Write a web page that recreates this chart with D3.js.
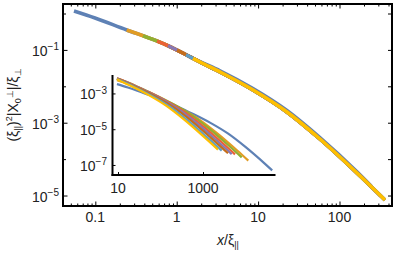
<!DOCTYPE html>
<html>
<head>
<meta charset="utf-8">
<script src="https://cdn.jsdelivr.net/npm/d3@7"></script>
<style>
  html, body { margin: 0; padding: 0; background: #fff; }
  svg { display: block; font-family: "Liberation Sans", Arial, sans-serif; }
</style>
</head>
<body>
<svg id="chart" width="395" height="253"></svg>
<script>
// ---------------- data ----------------
const seriesColors = ["#5E81B5", "#E19C24", "#8FB032", "#EB6235", "#8778B3", "#C56E1A", "#5D9EC7", "#FFBF00"];

// main panel: scaled curves (x/xi_par, (xi_par)^2 |X0| / xi_perp)
const mainBlueX   = [0.0547, 0.0991, 0.243, 0.470, 0.753, 1.205, 1.93, 3.40, 8.65, 22.6, 57.5, 164, 245];
const mainBlueY   = [1.17, 0.752, 0.352, 0.208, 0.136, 0.0807, 0.048, 0.0267, 0.0087, 0.00217, 3.9e-4, 4.5e-5, 1.83e-5];
const mainOrangeX = [0.243, 0.470, 0.753, 1.205, 1.93, 3.40, 8.65, 22.6, 57.5, 164, 282];
const mainOrangeY = [0.352, 0.208, 0.136, 0.0807, 0.0466, 0.0247, 0.00791, 0.00197, 3.56e-4, 4.15e-5, 1.29e-5];
const mainGreenX  = [0.385, 0.470, 0.753, 1.205, 1.93, 3.40, 8.65, 22.6, 57.5, 164, 316];
const mainGreenY  = [0.244, 0.208, 0.136, 0.0807, 0.0466, 0.0247, 0.00791, 0.00197, 3.56e-4, 4.15e-5, 1.0e-5];
const mainRedX    = [0.573, 0.753, 1.205, 1.93, 3.40, 8.65, 22.6, 57.5, 164, 324];
const mainRedY    = [0.1745, 0.136, 0.0807, 0.0466, 0.0247, 0.00791, 0.00197, 3.56e-4, 4.15e-5, 9.6e-6];
const mainPurpleX = [0.782, 1.205, 1.93, 3.40, 8.65, 22.6, 57.5, 164, 362];
const mainPurpleY = [0.131, 0.0807, 0.0466, 0.0247, 0.00791, 0.00197, 3.56e-4, 4.15e-5, 7.52e-6];
const mainBrownX  = [1.008, 1.205, 1.93, 3.40, 8.65, 22.6, 57.5, 164, 362];
const mainBrownY  = [0.0984, 0.0807, 0.0466, 0.0247, 0.00791, 0.00197, 3.56e-4, 4.15e-5, 7.52e-6];
const mainSkyX    = [1.30, 1.93, 3.40, 8.65, 22.6, 57.5, 164, 362];
const mainSkyY    = [0.0738, 0.0466, 0.0247, 0.00791, 0.00197, 3.56e-4, 4.15e-5, 7.52e-6];
const mainYellowX = [1.586, 1.93, 3.40, 8.65, 22.6, 57.5, 164, 362];
const mainYellowY = [0.0586, 0.0466, 0.0247, 0.00791, 0.00197, 3.56e-4, 4.15e-5, 7.52e-6];

// inset: raw curves (x, |X0|)
const insetBlueX   = [9.46, 17.1, 42.1, 81.3, 130, 208, 334, 589, 1496, 3917, 9954, 28380, 42460];
const insetBlueY   = [3.35e-3, 2.15e-3, 1.007e-3, 5.96e-4, 3.90e-4, 2.31e-4, 1.33e-4, 7.06e-5, 2.26e-5, 5.62e-6, 1.02e-6, 1.19e-7, 4.98e-8];
const insetOrangeX = [9.46, 18.3, 29.3, 46.9, 75.2, 132, 337, 881, 2239, 6383, 11640];
const insetOrangeY = [5.46e-3, 3.23e-3, 2.11e-3, 1.25e-3, 7.21e-4, 3.83e-4, 1.22e-4, 3.05e-5, 5.52e-6, 6.43e-7, 1.76e-7];
const insetGreenX  = [9.46, 11.5, 18.5, 29.6, 47.4, 83.6, 212, 556, 1413, 4027, 8147];
const insetGreenY  = [6.6e-3, 5.7e-3, 3.8e-3, 2.3e-3, 1.35e-3, 7.2e-4, 2.33e-4, 5.81e-5, 1.052e-5, 1.224e-6, 2.68e-7];
const insetRedX    = [9.46, 12.4, 19.9, 31.9, 56.2, 143, 374, 951, 2710, 5662];
const insetRedY    = [6.9e-3, 5.6e-3, 3.45e-3, 2.05e-3, 1.11e-3, 3.6e-4, 9.10e-5, 1.648e-5, 1.919e-6, 3.92e-7];
const insetPurpleX = [9.46, 14.6, 23.4, 41.2, 105, 274, 697, 1986, 4732];
const insetPurpleY = [7.0e-3, 4.6e-3, 2.8e-3, 1.52e-3, 4.95e-4, 1.24e-4, 2.275e-5, 2.649e-6, 4.07e-7];
const insetBrownX  = [9.46, 11.3, 18.1, 31.9, 81.1, 212, 540, 1538, 3873];
const insetBrownY  = [6.9e-3, 5.8e-3, 3.5e-3, 1.9e-3, 6.2e-4, 1.55e-4, 2.831e-5, 3.296e-6, 4.50e-7];
const insetSkyX    = [9.46, 14.1, 24.8, 63.0, 165, 419, 1194, 2754];
const insetSkyY    = [6.5e-3, 4.2e-3, 2.25e-3, 7.25e-4, 1.816e-4, 3.289e-5, 3.828e-6, 6.31e-7];
const insetYellowX = [9.46, 11.5, 20.3, 51.6, 135, 344, 980, 2254];
const insetYellowY = [6.14e-3, 4.875e-3, 2.588e-3, 8.28e-4, 2.061e-4, 3.733e-5, 4.345e-6, 7.19e-7];

// tick labels
const mainXTicks = [0.1, 1, 10, 100];
const mainXTickLabels = ["0.1", "1", "10", "100"];
const mainYTicks = [1e-1, 1e-3, 1e-5];
const mainYTickExps = ["\u22121", "\u22123", "\u22125"];
const mainYDecades = [1, 1e-1, 1e-2, 1e-3, 1e-4, 1e-5];
const insetXTicks = [10, 1000];
const insetXTickLabels = ["10", "1000"];
const insetYTicks = [1e-3, 1e-5, 1e-7];
const insetYTickExps = ["\u22123", "\u22125", "\u22127"];

// ---------------- layout ----------------
const svg = d3.select("#chart");
const M = { left: 63, right: 392, top: 4, bottom: 206 };
const x = d3.scaleLog().domain([Math.pow(10, -1.397), Math.pow(10, 2.645)]).range([M.left, M.right]);
const y = d3.scaleLog().domain([Math.pow(10, 0.261), Math.pow(10, -5.288)]).range([M.top, M.bottom]);

const I = { left: 112.5, right: 275.5, top: 75, bottom: 175 };
const ix = d3.scaleLog().domain([Math.pow(10, 0.87), Math.pow(10, 4.706)]).range([I.left, I.right]);
const iy = d3.scaleLog().domain([Math.pow(10, -1.97), Math.pow(10, -7.56)]).range([I.top, I.bottom]);

const mainSeries = [
  [mainBlueX, mainBlueY], [mainOrangeX, mainOrangeY], [mainGreenX, mainGreenY], [mainRedX, mainRedY],
  [mainPurpleX, mainPurpleY], [mainBrownX, mainBrownY], [mainSkyX, mainSkyY], [mainYellowX, mainYellowY]
];
const insetSeries = [
  [insetBlueX, insetBlueY], [insetOrangeX, insetOrangeY], [insetGreenX, insetGreenY], [insetRedX, insetRedY],
  [insetPurpleX, insetPurpleY], [insetBrownX, insetBrownY], [insetSkyX, insetSkyY], [insetYellowX, insetYellowY]
];

// ---------------- main curves ----------------
const mainLine = d3.line().x(d => x(d[0])).y(d => y(d[1])).curve(d3.curveMonotoneX);
mainSeries.forEach((s, i) => {
  const pts = s[0].map((v, k) => [v, s[1][k]]);
  svg.append("path").attr("d", mainLine(pts)).attr("fill", "none")
    .attr("stroke", seriesColors[i]).attr("stroke-width", 3.5);
});

// ---------------- main ticks ----------------
const allX = x.ticks(50).filter(v => v >= x.domain()[0] && v <= x.domain()[1]);
const isPow = v => Math.abs(Math.log10(v) - Math.round(Math.log10(v))) < 1e-9;
const xMajor = allX.filter(isPow);
const xMinor = allX.filter(v => !isPow(v));

function tickGroup(axis, transform) {
  const g = svg.append("g").attr("transform", transform).call(axis);
  g.select(".domain").remove();
  g.selectAll("line").attr("stroke", "#000").attr("stroke-width", 1);
  return g;
}
tickGroup(d3.axisBottom(x).tickValues(xMajor).tickSize(-4.5).tickFormat(""), `translate(0,${M.bottom})`);
tickGroup(d3.axisBottom(x).tickValues(xMinor).tickSize(-2.5).tickFormat(""), `translate(0,${M.bottom})`);
tickGroup(d3.axisTop(x).tickValues(xMajor).tickSize(-4.5).tickFormat(""), `translate(0,${M.top})`);
tickGroup(d3.axisTop(x).tickValues(xMinor).tickSize(-2.5).tickFormat(""), `translate(0,${M.top})`);
tickGroup(d3.axisLeft(y).tickValues(mainYTicks).tickSize(-4.5).tickFormat(""), `translate(${M.left},0)`);
tickGroup(d3.axisLeft(y).tickValues(mainYDecades.filter(v => !mainYTicks.includes(v))).tickSize(-3).tickFormat(""), `translate(${M.left},0)`);
tickGroup(d3.axisRight(y).tickValues(mainYDecades).tickSize(-4).tickFormat(""), `translate(${M.right},0)`);

// frame
svg.append("rect").attr("x", M.left).attr("y", M.top)
  .attr("width", M.right - M.left).attr("height", M.bottom - M.top)
  .attr("fill", "none").attr("stroke", "#000").attr("stroke-width", 2);

// main tick labels
mainXTicks.forEach((v, i) => {
  svg.append("text").attr("x", x(v)).attr("y", 222).attr("text-anchor", "middle")
    .attr("font-size", 14).attr("fill", "#222").text(mainXTickLabels[i]);
});
function powLabel(xp, yp, exp) {
  const t = svg.append("text").attr("x", xp).attr("y", yp).attr("text-anchor", "end")
    .attr("font-size", 14).attr("fill", "#222");
  t.append("tspan").text("10");
  t.append("tspan").attr("font-size", 10).attr("dy", -5.5).text(exp);
}
mainYTicks.forEach((v, i) => powLabel(59, y(v) + 6, mainYTickExps[i]));

// axis titles
const xt = svg.append("text").attr("x", 228).attr("y", 245).attr("text-anchor", "middle")
  .attr("font-size", 14).attr("fill", "#222");
xt.append("tspan").attr("font-style", "italic").text("x");
xt.append("tspan").text("/\u03BE");
xt.append("tspan").attr("font-size", 9).attr("dy", 3).text("||");

const yt = svg.append("text").attr("transform", "translate(18,105) rotate(-90)")
  .attr("text-anchor", "middle").attr("font-size", 14).attr("fill", "#222");
yt.append("tspan").text("(\u03BE");
yt.append("tspan").attr("font-size", 9).attr("dy", 3).text("||");
yt.append("tspan").attr("dy", -3).text(")");
yt.append("tspan").attr("font-size", 9).attr("dy", -6).text("2");
yt.append("tspan").attr("dy", 6).text("|X");
yt.append("tspan").attr("font-size", 9).attr("dy", 3).text("0");
yt.append("tspan").attr("font-size", 9).attr("dy", -8).text("\u22A5");
yt.append("tspan").attr("dy", 5).text("|/\u03BE");
yt.append("tspan").attr("font-size", 9).attr("dy", 3).text("\u22A5");

// ---------------- inset ----------------
const insetLine = d3.line().x(d => ix(d[0])).y(d => iy(d[1])).curve(d3.curveMonotoneX);
insetSeries.forEach((s, i) => {
  const pts = s[0].map((v, k) => [v, s[1][k]]);
  svg.append("path").attr("d", insetLine(pts)).attr("fill", "none")
    .attr("stroke", seriesColors[i]).attr("stroke-width", 2.2);
});

tickGroup(d3.axisBottom(ix).tickValues(insetXTicks).tickSize(-3).tickFormat(""), `translate(0,${I.bottom})`);
tickGroup(d3.axisLeft(iy).tickValues(insetYTicks).tickSize(-3).tickFormat(""), `translate(${I.left},0)`);
svg.append("line").attr("x1", I.left).attr("x2", I.left).attr("y1", I.top).attr("y2", I.bottom + 1)
  .attr("stroke", "#000").attr("stroke-width", 2);
svg.append("line").attr("x1", I.left - 1).attr("x2", I.right).attr("y1", I.bottom).attr("y2", I.bottom)
  .attr("stroke", "#000").attr("stroke-width", 2);

insetXTicks.forEach((v, i) => {
  svg.append("text").attr("x", ix(v)).attr("y", 192.5).attr("text-anchor", "middle")
    .attr("font-size", 14).attr("fill", "#222").text(insetXTickLabels[i]);
});
insetYTicks.forEach((v, i) => powLabel(107, iy(v) + 6, insetYTickExps[i]));
</script>
</body>
</html>
